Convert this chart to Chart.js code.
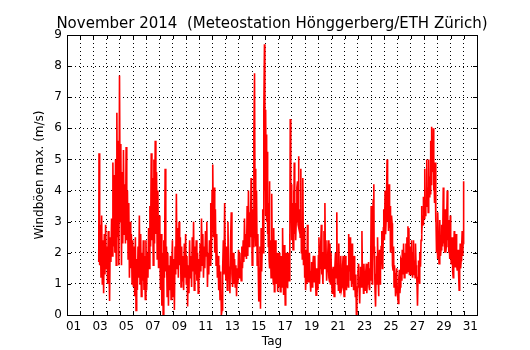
<!DOCTYPE html>
<html>
<head>
<meta charset="utf-8">
<title>Windböen November 2014</title>
<script src="https://cdn.jsdelivr.net/npm/chart.js@4.4.1/dist/chart.umd.min.js"></script>
<style>
    html, body { margin: 0; padding: 0; background: #ffffff; }
    #wrap { width: 530px; height: 350px; }
</style>
</head>
<body>
<div id="wrap"><canvas id="board" width="530" height="350"></canvas></div>
<script>
// Zeitpunkte (Tag im Monat + Bruchteil) und Windböen max. in m/s
var tage = [
    3.40,3.42,3.47,3.52,3.57,3.62,3.67,3.72,3.77,3.82,
    3.87,3.92,3.97,4.02,4.07,4.12,4.17,4.22,4.27,4.32,
    4.37,4.42,4.47,4.52,4.57,4.62,4.67,4.72,4.77,4.82,
    4.87,4.92,4.97,5.02,5.07,5.12,5.17,5.22,5.27,5.32,
    5.37,5.42,5.47,5.52,5.57,5.62,5.67,5.72,5.77,5.82,
    5.87,5.92,5.97,6.02,6.07,6.12,6.17,6.22,6.27,6.32,
    6.37,6.42,6.47,6.52,6.57,6.62,6.67,6.72,6.77,6.82,
    6.87,6.92,6.97,7.02,7.07,7.12,7.17,7.22,7.27,7.32,
    7.37,7.42,7.47,7.52,7.57,7.62,7.67,7.72,7.77,7.82,
    7.87,7.92,7.97,8.02,8.07,8.12,8.17,8.22,8.27,8.32,
    8.37,8.42,8.47,8.52,8.57,8.62,8.67,8.72,8.77,8.82,
    8.87,8.92,
    8.97,9.02,9.07,9.12,9.17,9.22,9.27,9.32,9.37,9.42,
    9.47,9.52,9.57,9.62,9.67,9.72,9.77,9.82,9.87,9.92,
    9.97,10.02,10.07,10.12,10.17,10.22,10.27,10.32,10.37,10.42,
    10.47,10.52,10.57,10.62,10.67,10.72,10.77,10.82,10.87,10.92,
    10.97,11.02,11.07,11.12,11.17,11.22,11.27,11.32,11.37,11.42,
    11.47,11.52,11.57,11.62,11.67,11.72,11.77,11.82,11.87,11.92,
    11.97,12.02,12.07,12.12,12.17,12.22,12.27,12.32,12.37,12.42,
    12.47,12.52,12.57,12.62,12.67,12.72,12.77,12.82,12.87,12.92,
    12.97,13.02,13.07,13.12,13.17,13.22,13.27,13.32,13.37,13.42,
    13.47,13.52,13.57,13.62,13.67,13.72,13.77,13.82,13.87,13.92,
    13.97,14.02,14.07,14.12,14.17,14.22,14.27,14.32,14.37,14.42,
    14.47,14.52,14.57,14.62,14.67,14.72,14.77,14.82,14.87,14.92,
    14.95,15.00,15.05,15.09,15.13,15.18,15.22,15.25,15.29,15.33,
    15.38,15.43,15.47,15.50,15.55,15.59,15.63,15.68,15.72,15.75,
    15.80,15.84,15.88,15.93,15.96,15.98,16.01,16.03,16.06,16.08,
    16.11,16.13,16.16,16.18,16.22,16.25,16.28,16.30,16.34,16.38,
    16.43,16.48,16.52,16.55,16.60,16.63,16.68,16.72,16.75,16.80,
    16.83,16.88,16.93,16.98,17.02,17.05,17.09,17.13,17.18,17.23,
    17.27,17.30,17.34,17.38,17.43,17.47,17.50,17.54,17.58,17.63,
    17.68,17.72,17.75,17.80,17.83,17.86,17.88,17.92,17.95,17.99,
    18.02,18.05,18.09,18.13,18.16,18.18,18.22,18.25,18.29,18.33,
    18.38,18.43,18.47,18.50,18.54,18.58,18.63,18.68,18.72,18.75,
    18.79,18.83,18.88,18.93,18.97,19.00,19.04,19.08,19.13,19.18,
    19.22,19.25,19.29,19.33,19.38,19.43,19.47,19.50,19.54,19.58,
    19.63,19.68,19.72,19.75,19.79,19.83,19.88,19.93,19.97,20.01,
    20.05,20.09,20.13,20.18,20.23,20.27,20.30,20.35,20.39,20.43,
    20.47,20.50,20.54,20.58,20.63,20.68,20.72,20.75,20.80,20.85,
    20.88,20.92,20.96,21.00,21.05,21.09,21.13,21.17,21.20,21.25,
    21.30,21.35,21.40,21.44,21.48,21.52,21.55,21.59,21.63,21.67,
    21.70,21.75,21.80,21.84,21.88,21.92,21.95,22.00,22.05,22.09,
    22.13,22.18,22.23,22.27,22.30,22.35,22.40,22.44,22.48,22.52,
    22.55,22.59,22.63,22.67,22.70,22.75,22.80,22.84,22.88,22.92,
    22.95,23.00,23.05,23.09,23.13,23.17,23.20,23.25,23.30,23.34,
    23.38,23.42,23.45,23.50,23.55,23.59,23.63,23.67,23.70,23.75,
    23.80,23.84,23.88,23.92,23.95,24.00,24.04,24.08,24.11,24.15,
    24.20,24.22,24.25,24.29,24.33,24.37,24.40,24.44,24.48,24.52,
    24.55,24.59,24.63,24.67,24.70,24.75,24.80,24.84,24.88,24.92,
    24.95,25.00,25.05,25.09,25.13,25.17,25.20,25.24,25.28,25.31,
    25.35,25.39,25.43,25.46,25.50,25.54,25.58,25.61,25.65,25.69,
    25.73,25.76,25.80,25.84,25.88,25.92,25.95,26.00,26.05,26.09,
    26.13,26.17,26.20,26.24,26.28,26.32,26.35,26.40,26.45,26.50,
    26.55,26.59,26.63,26.67,26.70,26.74,26.78,26.82,26.85,26.89,
    26.93,26.97,27.01,27.05,27.09,27.13,27.17,27.20,27.24,27.28,
    27.32,27.35,27.39,27.43,27.47,27.50,27.54,27.58,27.62,27.65,
    27.69,27.73,27.77,27.80,27.84,27.88,27.92,27.95,28.00,28.05,
    28.09,28.13,28.17,28.20,28.24,28.28,28.31,28.35,28.39,28.43,
    28.46,28.50,28.53,28.55,28.59,28.63,28.66,28.70,28.73,28.75,
    28.79,28.83,28.87,28.90,28.94,28.98,29.01,29.05,29.09,29.13,
    29.17,29.20,29.24,29.28,29.31,29.35,29.40,29.45,29.49,29.53,
    29.56,29.60,29.64,29.68,29.72,29.75,29.79,29.83,29.87,29.90,
    29.94,29.98,30.01,30.05,30.09,30.13,30.16,30.20,30.24,30.28,
    30.31,30.35,30.39,30.43,30.46,30.50,30.54,30.58,30.61,30.65,
    30.69,30.73,30.76,30.80,30.84,30.88,30.92,30.95,30.98,31.00
];

var boeen = [
    1.7,5.2,1.6,2.9,1.2,3.2,1.0,2.4,0.7,2.6,
    1.3,2.9,1.5,2.2,1.0,2.7,1.6,0.45,2.5,1.7,
    3.1,1.9,4.9,2.2,4.5,2.0,5.0,1.6,6.5,2.5,
    5.6,1.6,7.7,3.0,5.5,1.6,4.6,2.3,5.3,2.6,
    4.2,2.3,5.4,2.4,4.0,1.8,3.6,1.2,3.0,1.5,
    2.6,1.0,2.4,0.9,2.2,0.6,2.5,0.15,1.8,0.8,
    2.2,1.2,3.2,1.0,2.6,0.6,2.0,1.1,2.4,0.8,
    1.9,0.5,2.4,0.8,2.0,1.2,2.8,1.5,3.5,2.2,
    5.2,2.4,4.4,1.6,5.0,2.3,5.6,2.6,4.6,1.8,
    4.0,1.5,3.2,2.2,0.8,2.6,0.3,2.0,0.0,2.4,
    1.2,4.7,1.4,2.2,0.6,2.0,0.3,1.6,0.8,1.9,
    0.5,1.4,
    2.4,0.6,1.8,0.16,2.2,1.3,3.9,1.5,2.8,1.2,
    3.0,1.6,2.5,0.9,2.2,1.1,1.9,0.8,2.3,1.2,
    2.6,1.0,1.9,0.27,1.6,0.7,2.4,1.2,1.9,0.9,
    2.5,1.4,3.0,0.8,2.2,1.3,2.4,1.1,2.0,0.7,
    1.8,1.2,2.3,1.4,3.1,1.6,2.6,1.2,2.2,1.5,
    2.7,1.9,3.0,0.9,2.0,1.3,2.4,1.6,3.6,1.8,
    4.0,4.84,2.5,4.1,2.0,3.4,1.6,2.6,1.2,1.9,
    0.8,1.6,0.5,1.4,0.0,0.16,1.5,2.4,1.3,3.6,
    1.6,1.1,2.2,0.8,3.0,1.2,1.56,0.7,2.4,3.3,
    1.3,0.9,2.0,1.0,1.8,0.9,1.6,0.6,1.5,1.0,
    2.1,1.2,2.0,1.4,1.1,2.2,1.5,2.4,1.7,3.1,
    1.9,2.6,1.8,3.5,1.9,4.0,2.2,3.3,2.5,4.4,
    4.3,1.6,3.4,2.2,5.8,7.77,3.0,4.7,2.2,4.0,
    1.6,2.6,1.2,0.43,1.5,2.2,0.2,2.8,1.4,2.0,
    3.4,2.0,6.5,8.7,4.0,6.0,3.2,6.6,3.5,5.8,
    3.0,5.25,2.6,4.4,2.2,3.6,1.8,4.3,1.5,2.4,
    1.2,3.9,1.8,1.5,1.0,2.8,0.75,1.6,2.4,1.0,
    1.5,2.0,0.75,1.8,0.9,2.0,1.2,0.75,1.9,1.6,
    0.9,2.8,1.3,0.64,2.25,1.1,0.32,1.5,2.0,1.0,
    0.86,2.0,1.5,1.1,2.6,1.6,6.3,3.2,4.2,2.4,
    3.6,3.0,2.1,4.0,2.8,4.9,2.6,3.6,2.4,3.0,
    4.1,4.3,2.9,5.1,2.8,3.4,2.5,4.7,2.0,2.6,
    1.8,4.4,1.6,2.8,1.2,2.1,0.8,1.5,1.0,2.9,
    1.4,1.07,1.8,2.0,1.2,0.75,1.4,1.7,0.9,1.5,
    1.9,1.07,1.5,1.9,1.1,0.64,1.5,1.3,0.8,1.9,
    2.5,1.0,1.5,2.2,2.9,1.3,1.7,1.0,2.0,2.7,
    1.5,3.6,1.7,2.4,1.1,1.5,2.0,2.4,1.2,1.07,
    2.3,1.0,2.0,1.2,0.7,1.4,1.55,0.9,0.6,1.5,
    2.0,1.2,3.3,1.0,1.45,0.8,2.3,1.3,0.7,1.5,
    1.9,0.8,0.9,1.6,1.9,0.9,0.6,1.5,1.9,1.0,
    0.8,1.6,1.2,0.9,2.6,1.4,2.5,1.1,1.45,0.9,
    2.3,1.0,1.45,0.8,1.9,1.2,0.6,1.3,0.0,0.5,
    0.9,1.4,1.65,0.9,0.37,1.2,1.55,0.9,2.7,1.1,
    1.2,0.7,1.65,1.0,0.8,1.4,1.65,0.7,1.0,1.4,
    1.7,0.9,0.8,1.5,1.1,3.5,1.4,1.0,2.6,3.7,
    4.2,2.2,1.75,0.8,0.27,1.3,1.9,1.0,2.5,1.3,
    0.6,1.5,2.1,1.0,1.45,2.2,2.7,1.5,1.75,2.8,
    3.4,2.4,4.0,2.6,3.05,4.1,5.0,3.0,3.8,2.7,
    4.2,2.8,3.5,2.0,2.3,3.2,2.95,1.6,1.45,2.2,
    0.9,1.6,1.35,0.6,0.8,1.5,1.2,0.6,0.37,1.2,
    1.45,0.7,0.9,1.8,1.75,1.1,2.1,1.3,2.3,1.2,
    2.0,1.4,2.3,1.35,2.5,1.4,2.85,1.45,2.8,1.3,
    1.55,2.2,1.3,2.4,1.5,1.2,2.0,2.4,1.3,1.75,
    1.2,2.3,1.6,1.35,0.9,0.3,1.2,1.75,1.3,1.0,
    2.0,1.55,2.4,3.5,2.6,3.2,2.9,3.8,3.1,4.7,
    3.2,3.7,3.6,5.0,3.5,4.1,3.3,5.0,3.8,4.45,
    3.9,5.6,4.2,6.05,4.5,5.4,4.6,6.0,4.0,4.35,
    3.6,4.9,3.0,3.4,2.0,2.4,1.8,3.3,2.2,1.65,
    2.6,3.05,1.9,2.1,2.9,2.85,2.2,4.1,2.3,2.5,
    2.0,3.4,2.0,2.2,3.3,4.0,2.4,3.05,2.0,2.3,
    1.8,3.2,2.2,1.65,2.3,2.5,1.4,1.2,2.1,2.7,
    1.6,1.55,2.2,2.6,1.6,1.45,1.9,2.1,1.3,0.8,
    1.6,2.3,1.5,1.75,2.2,2.7,1.9,2.3,3.0,4.3
];

var tagLabels = ['01','03','05','07','09','11','13','15','17','19','21','23','25','27','29','31'];
var titel = 'November 2014  (Meteostation Hönggerberg/ETH Zürich)';

if (tage.length != boeen.length) {
    console.log('length mismatch', tage.length, boeen.length);
}

Chart.defaults.font.family = '"DejaVu Sans", sans-serif';
Chart.defaults.color = '#000000';

// frame, inward ticks and the title, like the old matplotlib plot
const frameAndTitle = {
    id: 'frameAndTitle',
    afterDraw(chart, args, options) {
        const { ctx, chartArea: { top, right, bottom, left }, scales: { x, y } } = chart;

        ctx.save();
        ctx.strokeStyle = '#000000';
        ctx.lineWidth = 1;
        ctx.strokeRect(Math.round(left) + 0.5, Math.round(top) + 0.5, Math.round(right - left), Math.round(bottom - top));

        ctx.beginPath();
        x.ticks.forEach(t => {
            const px = Math.round(x.getPixelForValue(t.value)) + 0.5;
            ctx.moveTo(px, bottom); ctx.lineTo(px, bottom - 4);
            ctx.moveTo(px, top); ctx.lineTo(px, top + 4);
        });
        y.ticks.forEach(t => {
            const py = Math.round(y.getPixelForValue(t.value)) + 0.5;
            ctx.moveTo(left, py); ctx.lineTo(left + 4, py);
            ctx.moveTo(right, py); ctx.lineTo(right - 4, py);
        });
        ctx.stroke();

        ctx.fillStyle = '#000000';
        ctx.font = options.size + 'px "DejaVu Sans"';
        ctx.textAlign = 'center';
        ctx.textBaseline = 'alphabetic';
        ctx.fillText(options.text, (left + right) / 2, options.baseline);
        ctx.restore();
    }
};

const ctx = document.getElementById('board').getContext('2d');
window.myChart = new Chart(ctx, {
    type: 'line',
    data: {
        datasets: [{
            label: 'Windböen max.',
            data: tage.map((t, i) => ({ x: t, y: boeen[i] })),
            borderColor: '#ff0000',
            backgroundColor: '#ff0000',
            borderWidth: 1.6,
            pointRadius: 0,
            tension: 0,
            fill: false
        }]
    },
    options: {
        responsive: false,
        animation: false,
        devicePixelRatio: 1,
        layout: {
            padding: { top: 35, right: 53, bottom: 0, left: 0 }
        },
        plugins: {
            legend: { display: false },
            tooltip: { enabled: false },
            title: { display: false },
            frameAndTitle: { text: titel, size: 15, baseline: 27.5 }
        },
        scales: {
            x: {
                type: 'linear',
                min: 1,
                max: 32,
                afterFit: (axis) => { axis.height = 35; },
                ticks: {
                    stepSize: 1,
                    autoSkip: false,
                    maxRotation: 0,
                    labelOffset: 6.6,
                    padding: 5,
                    color: '#000000',
                    font: { size: 12 },
                    callback: (v) => (v % 2 === 1 && v <= 31) ? tagLabels[(v - 1) / 2] : ''
                },
                grid: {
                    color: '#000000',
                    lineWidth: 1,
                    drawTicks: false
                },
                border: { display: false, dash: [1, 3] },
                title: {
                    display: true,
                    text: 'Tag',
                    color: '#000000',
                    font: { size: 12 },
                    padding: { top: 0, bottom: 1 }
                }
            },
            y: {
                min: 0,
                max: 9,
                afterFit: (axis) => { axis.width = 67; },
                ticks: {
                    stepSize: 1,
                    padding: 5,
                    color: '#000000',
                    font: { size: 12 }
                },
                grid: {
                    color: '#000000',
                    lineWidth: 1,
                    drawTicks: false
                },
                border: { display: false, dash: [1, 3] },
                title: {
                    display: true,
                    text: 'Windböen max. (m/s)',
                    color: '#000000',
                    font: { size: 12 },
                    padding: { top: 33, bottom: 0 }
                }
            }
        }
    },
    plugins: [frameAndTitle]
});
</script>
</body>
</html>
